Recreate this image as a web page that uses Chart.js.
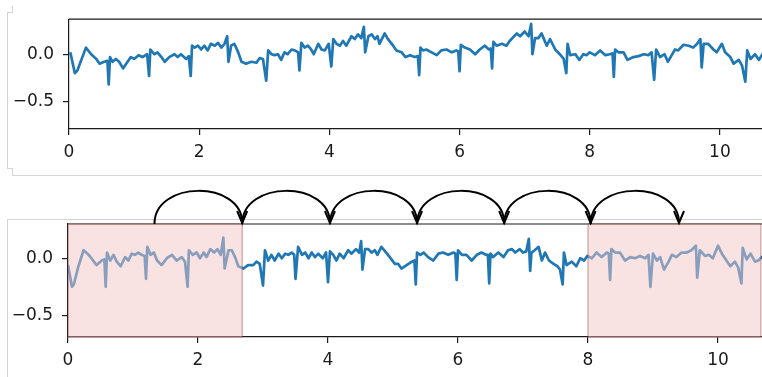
<!DOCTYPE html>
<html>
<head>
<meta charset="utf-8">
<script src="https://cdn.jsdelivr.net/npm/chart.js@4"></script>
<style>
  html, body { margin: 0; padding: 0; background: #fff; overflow: hidden; }
  body { width: 762px; height: 377px; position: relative; }
  .panel { position: absolute; left: 0; }
  #topPanel { top: 0; }
  #bottomPanel { top: 177px; }
  .edge { position: absolute; background: #d4d4d4; }
</style>
</head>
<body>
<!-- faint frame lines left over from the screenshot crops -->
<div class="edge" style="left:12px;top:6px;width:1px;height:7px"></div>
<div class="edge" style="left:7px;top:12px;width:5px;height:1px"></div>
<div class="edge" style="left:7px;top:13px;width:1px;height:155px"></div>
<div class="edge" style="left:7px;top:168px;width:5px;height:1px"></div>
<div class="edge" style="left:12px;top:168px;width:1px;height:7px"></div>
<div class="edge" style="left:12px;top:175px;width:750px;height:1px"></div>
<div class="edge" style="left:7px;top:219px;width:755px;height:1px"></div>
<div class="edge" style="left:7px;top:219px;width:1px;height:158px"></div>

<div class="panel" id="topPanel"><canvas id="topChart" width="785" height="170"></canvas></div>
<div class="panel" id="bottomPanel"><canvas id="bottomChart" width="783" height="200"></canvas></div>

<script>
// raw signal (top panel), time in s
const topTime = [
  0.02, 0.09, 0.13, 0.26, 0.34, 0.42, 0.47, 0.54, 0.59, 0.61, 0.63, 0.67, 0.72, 0.77, 0.83, 0.90,
  0.95, 1.00, 1.07, 1.13, 1.20, 1.23, 1.25, 1.31, 1.36, 1.42, 1.47, 1.54, 1.62, 1.67, 1.72, 1.80,
  1.84, 1.87, 1.89, 1.93, 1.98, 2.03, 2.08, 2.13, 2.18, 2.24, 2.29, 2.34, 2.39, 2.43, 2.45, 2.49,
  2.54, 2.60, 2.65, 2.72, 2.80, 2.88, 2.93, 2.98, 3.03, 3.06, 3.11, 3.16, 3.21, 3.26, 3.31, 3.36,
  3.42, 3.47, 3.52, 3.54, 3.57, 3.62, 3.67, 3.72, 3.76, 3.83, 3.88, 3.93, 3.99, 4.03, 4.06, 4.11,
  4.16, 4.21, 4.26, 4.34, 4.39, 4.44, 4.49, 4.53, 4.55, 4.60, 4.65, 4.70, 4.74, 4.77, 4.85, 4.90,
  4.98, 5.03, 5.11, 5.17, 5.24, 5.31, 5.36, 5.38, 5.40, 5.44, 5.49, 5.57, 5.65, 5.72, 5.80, 5.88,
  5.95, 5.98, 6.00, 6.02, 6.08, 6.16, 6.24, 6.31, 6.39, 6.45, 6.48, 6.50, 6.52, 6.57, 6.65, 6.72,
  6.77, 6.88, 6.93, 7.00, 7.06, 7.10, 7.12, 7.16, 7.21, 7.26, 7.34, 7.39, 7.47, 7.54, 7.60, 7.64,
  7.66, 7.70, 7.78, 7.84, 7.90, 7.95, 8.00, 8.08, 8.16, 8.24, 8.31, 8.35, 8.37, 8.39, 8.44, 8.52,
  8.58, 8.67, 8.75, 8.83, 8.90, 8.95, 8.99, 9.02, 9.08, 9.15, 9.20, 9.26, 9.31, 9.36, 9.44, 9.52,
  9.59, 9.65, 9.70, 9.72, 9.75, 9.82, 9.90, 9.95, 10.03, 10.08, 10.16, 10.21, 10.29, 10.34, 10.39, 10.42,
  10.47, 10.54, 10.60, 10.67, 10.75
];
const topValues = [
  0.02, -0.20, -0.17, 0.07, 0.00, -0.05, -0.10, -0.08, -0.07, -0.32, -0.03, -0.08, -0.05, -0.08, -0.15, -0.08,
  -0.03, -0.05, -0.01, -0.03, 0.00, -0.23, 0.05, 0.00, 0.02, -0.03, -0.08, -0.03, 0.00, -0.03, 0.00, -0.05,
  -0.02, -0.23, 0.09, 0.07, 0.09, 0.05, 0.09, 0.04, 0.11, 0.09, 0.12, 0.07, 0.11, 0.19, -0.08, 0.09,
  0.11, 0.02, -0.08, -0.10, -0.08, -0.09, -0.04, -0.05, -0.28, 0.04, 0.00, -0.01, 0.00, -0.06, 0.02, 0.00,
  0.05, 0.04, 0.02, -0.17, 0.12, 0.07, 0.09, 0.05, 0.00, 0.11, 0.05, 0.04, 0.11, -0.13, 0.16, 0.11,
  0.09, 0.14, 0.09, 0.19, 0.16, 0.21, 0.17, 0.29, 0.02, 0.19, 0.21, 0.16, 0.19, 0.11, 0.22, 0.16,
  0.09, 0.04, 0.02, -0.03, -0.01, -0.03, -0.02, -0.22, 0.07, 0.04, 0.05, 0.02, -0.01, 0.04, 0.05, 0.02,
  0.04, 0.03, -0.18, 0.10, 0.07, 0.05, 0.00, 0.05, 0.09, 0.05, 0.06, -0.15, 0.13, 0.09, 0.11, 0.09,
  0.14, 0.22, 0.19, 0.24, 0.19, 0.32, 0.00, 0.17, 0.17, 0.22, 0.09, 0.16, 0.05, 0.00, -0.05, -0.20,
  0.11, -0.01, 0.00, -0.06, 0.00, -0.01, 0.02, -0.01, 0.04, -0.01, 0.00, 0.01, -0.24, 0.05, 0.02, 0.02,
  -0.06, -0.03, -0.02, 0.00, -0.01, 0.02, -0.27, 0.05, -0.03, 0.00, -0.08, -0.01, 0.05, 0.04, 0.10, 0.09,
  0.07, 0.11, 0.16, -0.14, 0.11, 0.11, 0.05, 0.02, 0.11, 0.02, -0.03, -0.10, -0.06, -0.12, -0.29, 0.04,
  -0.05, 0.00, -0.06, 0.02, 0.00
];

// baseline-removed signal (bottom panel)
const bottomTime = [
  0.00, 0.06, 0.09, 0.16, 0.24, 0.30, 0.36, 0.44, 0.52, 0.56, 0.58, 0.60, 0.65, 0.70, 0.75, 0.81,
  0.88, 0.93, 0.98, 1.03, 1.08, 1.13, 1.18, 1.20, 1.22, 1.27, 1.32, 1.37, 1.44, 1.52, 1.60, 1.67,
  1.75, 1.80, 1.84, 1.86, 1.92, 1.98, 2.03, 2.09, 2.13, 2.19, 2.25, 2.30, 2.35, 2.39, 2.41, 2.47,
  2.52, 2.57, 2.62, 2.70, 2.77, 2.85, 2.90, 2.95, 3.00, 3.03, 3.08, 3.13, 3.18, 3.24, 3.29, 3.34,
  3.39, 3.44, 3.48, 3.50, 3.54, 3.60, 3.65, 3.70, 3.75, 3.80, 3.85, 3.92, 3.97, 4.00, 4.03, 4.08,
  4.13, 4.18, 4.24, 4.31, 4.36, 4.43, 4.48, 4.51, 4.53, 4.57, 4.62, 4.67, 4.72, 4.76, 4.82, 4.88,
  4.95, 5.03, 5.08, 5.13, 5.21, 5.29, 5.33, 5.35, 5.37, 5.42, 5.47, 5.54, 5.62, 5.70, 5.77, 5.85,
  5.93, 5.96, 5.98, 6.00, 6.06, 6.13, 6.21, 6.29, 6.36, 6.43, 6.46, 6.48, 6.50, 6.54, 6.62, 6.70,
  6.77, 6.83, 6.88, 6.95, 7.00, 7.05, 7.09, 7.11, 7.13, 7.18, 7.24, 7.29, 7.34, 7.40, 7.47, 7.53,
  7.57, 7.61, 7.63, 7.67, 7.75, 7.82, 7.88, 7.94, 7.99, 8.06, 8.13, 8.21, 8.29, 8.32, 8.34, 8.36,
  8.42, 8.49, 8.57, 8.65, 8.72, 8.80, 8.88, 8.93, 8.96, 9.00, 9.06, 9.11, 9.17, 9.24, 9.29, 9.36,
  9.44, 9.52, 9.59, 9.66, 9.68, 9.72, 9.80, 9.86, 9.92, 10.00, 10.06, 10.13, 10.19, 10.26, 10.31, 10.36,
  10.38, 10.44, 10.50, 10.57, 10.62, 10.67, 10.75
];
const bottomValues = [
  -0.06, -0.25, -0.23, -0.07, 0.07, 0.04, 0.00, -0.06, -0.02, -0.01, -0.25, 0.05, -0.02, 0.03, -0.03, -0.07,
  0.01, -0.02, 0.04, 0.03, 0.05, 0.03, 0.02, -0.18, 0.10, 0.03, 0.05, -0.02, -0.06, 0.00, 0.03, -0.02,
  0.01, -0.03, -0.25, 0.07, 0.03, 0.05, 0.00, 0.05, 0.01, 0.08, 0.05, 0.08, 0.03, 0.18, -0.09, 0.07,
  0.07, 0.01, -0.07, -0.09, -0.06, -0.06, -0.03, -0.05, -0.24, 0.07, -0.02, 0.03, -0.02, 0.04, 0.00, 0.04,
  0.03, 0.05, 0.03, -0.18, 0.10, 0.03, 0.05, 0.00, 0.05, 0.01, 0.04, 0.00, 0.05, -0.21, 0.06, 0.03,
  -0.02, 0.04, 0.00, 0.07, 0.04, 0.08, 0.05, 0.15, -0.10, 0.08, 0.08, 0.05, 0.07, 0.03, 0.10, 0.06,
  0.01, -0.05, -0.05, -0.09, -0.06, -0.03, -0.02, -0.23, 0.05, 0.03, 0.05, 0.01, -0.02, 0.04, 0.05, 0.03,
  0.05, 0.04, -0.19, 0.07, 0.03, 0.03, -0.02, 0.03, 0.05, 0.03, 0.03, -0.22, 0.04, 0.01, 0.05, 0.01,
  0.07, 0.08, 0.05, 0.08, 0.05, 0.06, 0.17, -0.11, 0.05, 0.07, 0.10, -0.02, 0.05, -0.02, -0.05, -0.07,
  -0.10, -0.23, 0.05, -0.06, -0.03, -0.07, 0.00, -0.02, 0.02, 0.00, 0.05, 0.01, 0.05, 0.04, -0.19, 0.08,
  0.05, 0.05, -0.02, 0.01, 0.00, 0.02, 0.00, 0.03, -0.25, 0.04, -0.02, 0.01, -0.10, -0.03, 0.03, 0.01,
  0.05, 0.05, 0.07, 0.11, -0.17, 0.07, 0.02, 0.03, 0.00, 0.11, 0.04, -0.02, -0.07, -0.03, -0.08, -0.22,
  0.09, -0.01, 0.04, -0.03, -0.02, 0.01, 0.00
];

const xTicks = [0, 2, 4, 6, 8, 10];
const yTicks = [-0.5, 0.0];
// masked (shaded) windows in the bottom panel
const maskedSpans = [[0, 2.68], [8.0, 10.66]];
// hop points of the sliding window arrows
const hopStops = [1.33, 2.68, 4.03, 5.37, 6.71, 8.04, 9.40];

const INK = '#1a1a1a';
const LINE = '#1f77b4';

Chart.defaults.font.family = 'DejaVu Sans';
Chart.defaults.font.size = 17;
Chart.defaults.color = INK;

function fmtTick(v) {
  if (Math.abs(v) < 1e-9) return '0.0';
  return (v < 0 ? '\u2212' : '') + Math.abs(v).toFixed(1);
}

const framePlugin = {
  id: 'frame',
  beforeDatasetsDraw(chart) {
    const { ctx, chartArea: a } = chart;
    ctx.save();
    ctx.strokeStyle = INK;
    ctx.lineWidth = 1.2;
    ctx.beginPath();
    ctx.moveTo(a.left, a.top);
    ctx.lineTo(a.right, a.top);
    ctx.lineTo(a.right, a.bottom);
    ctx.stroke();
    ctx.restore();
  }
};

const spanPlugin = {
  id: 'spans',
  afterDatasetsDraw(chart) {
    if (!chart.options.plugins.spans.show) return;
    const { ctx, chartArea: a, scales: { x } } = chart;
    ctx.save();
    maskedSpans.forEach(([s, e]) => {
      const x0 = x.getPixelForValue(s);
      const x1 = x.getPixelForValue(e);
      ctx.fillStyle = 'rgba(244, 198, 198, 0.5)';
      ctx.fillRect(x0, a.top, x1 - x0, a.bottom - a.top);
      ctx.strokeStyle = 'rgba(140, 50, 50, 0.5)';
      ctx.lineWidth = 1;
      ctx.strokeRect(x0, a.top, x1 - x0, a.bottom - a.top);
    });
    ctx.restore();
  }
};

const hopPlugin = {
  id: 'hops',
  afterDraw(chart) {
    if (!chart.options.plugins.hops.show) return;
    const { ctx, chartArea: a, scales: { x } } = chart;
    const y = a.top;
    ctx.save();
    ctx.strokeStyle = '#000';
    ctx.lineWidth = 2;
    for (let i = 0; i < hopStops.length - 1; i++) {
      const p0 = x.getPixelForValue(hopStops[i]);
      const p1 = x.getPixelForValue(hopStops[i + 1]);
      ctx.beginPath();
      ctx.moveTo(p0, y);
      ctx.bezierCurveTo(p0, y - 44, p1, y - 44, p1, y - 1);
      ctx.stroke();
      ctx.beginPath();
      ctx.moveTo(p1 - 5, y - 13);
      ctx.lineTo(p1, y - 1);
      ctx.lineTo(p1 + 5, y - 13);
      ctx.stroke();
    }
    ctx.restore();
  }
};

function makeChart(id, time, values, cfg) {
  const ctx = document.getElementById(id).getContext('2d');
  return new Chart(ctx, {
    type: 'line',
    data: {
      datasets: [{
        data: time.map((t, i) => ({ x: t, y: values[i] })),
        borderColor: LINE,
        borderWidth: 2.7,
        borderJoinStyle: 'round',
        pointRadius: 0,
        tension: 0,
        fill: false
      }]
    },
    options: {
      responsive: false,
      animation: false,
      devicePixelRatio: 1,
      layout: { padding: { top: cfg.padTop, left: 0, right: 0, bottom: 0 } },
      plugins: {
        legend: { display: false },
        tooltip: { enabled: false },
        spans: { show: cfg.spans },
        hops: { show: cfg.spans }
      },
      scales: {
        x: {
          type: 'linear',
          min: 0,
          max: 11,
          afterBuildTicks: s => { s.ticks = xTicks.map(v => ({ value: v })); },
          afterFit: s => { s.height = cfg.xHeight; },
          ticks: { padding: 7, maxRotation: 0, callback: v => String(v) },
          grid: { drawOnChartArea: false, drawTicks: true, tickLength: 6, color: INK, lineWidth: 1.2 },
          border: { display: true, color: INK, width: 1.2 }
        },
        y: {
          min: cfg.yMin,
          max: cfg.yMax,
          afterBuildTicks: s => { s.ticks = yTicks.map(v => ({ value: v })); },
          afterFit: s => { s.width = cfg.yWidth; },
          ticks: { padding: 9, callback: v => fmtTick(v) },
          grid: { drawOnChartArea: false, drawTicks: true, tickLength: 6, color: INK, lineWidth: 1.2 },
          border: { display: true, color: INK, width: 1.2 }
        }
      }
    },
    plugins: [framePlugin, spanPlugin, hopPlugin]
  });
}

makeChart('topChart', topTime, topValues,
  { padTop: 16, xHeight: 41, yWidth: 69, yMin: -0.79, yMax: 0.37, spans: false });
makeChart('bottomChart', bottomTime, bottomValues,
  { padTop: 47, xHeight: 40, yWidth: 68, yMin: -0.69, yMax: 0.30, spans: true });
</script>
</body>
</html>
